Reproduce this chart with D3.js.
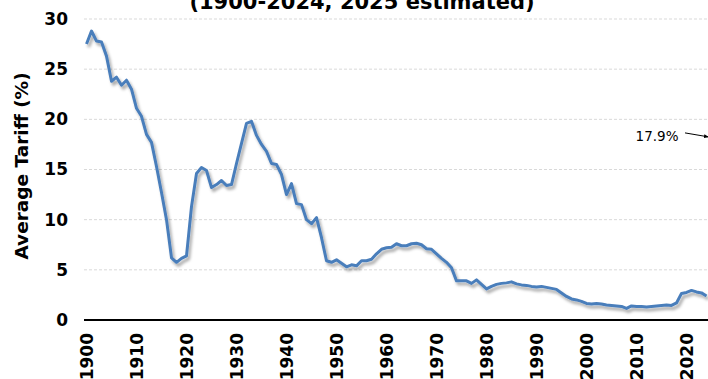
<!DOCTYPE html>
<html>
<head>
<meta charset="utf-8">
<script src="https://cdn.jsdelivr.net/npm/d3@7"></script>
<style>
  html, body { margin: 0; padding: 0; background: #fff; }
  svg { display: block; font-family: "DejaVu Sans", Verdana, sans-serif; }
</style>
</head>
<body>
<svg id="chart" width="708" height="379"></svg>
<script>
// ---- data ----
const titleLine = "(1900-2024, 2025 estimated)";
const yAxisTitle = "Average Tariff (%)";
const years = d3.range(1900, 2026);
const tariff = [
  27.5, 28.8, 27.8, 27.7, 26.3, 23.8, 24.2, 23.4, 23.9, 23.0,   // 1900-1909
  21.1, 20.3, 18.5, 17.7, 15.3, 12.7, 10.0, 6.2, 5.75, 6.15,    // 1910-1919
  6.4, 11.3, 14.6, 15.2, 14.9, 13.2, 13.5, 13.9, 13.4, 13.5,    // 1920-1929
  15.6, 17.6, 19.6, 19.8, 18.4, 17.5, 16.8, 15.6, 15.5, 14.5,   // 1930-1939
  12.5, 13.6, 11.6, 11.5, 10.0, 9.6, 10.2, 8.2, 5.9, 5.75,      // 1940-1949
  6.0, 5.65, 5.3, 5.5, 5.4, 5.9, 5.9, 6.05, 6.6, 7.05,          // 1950-1959
  7.2, 7.25, 7.6, 7.4, 7.4, 7.6, 7.65, 7.5, 7.1, 7.05,          // 1960-1969
  6.6, 6.15, 5.75, 5.2, 3.9, 3.9, 3.9, 3.65, 4.0, 3.55,         // 1970-1979
  3.1, 3.35, 3.55, 3.65, 3.7, 3.8, 3.6, 3.5, 3.45, 3.35,        // 1980-1989
  3.3, 3.35, 3.25, 3.15, 3.05, 2.7, 2.35, 2.1, 2.0, 1.85,       // 1990-1999
  1.65, 1.6, 1.65, 1.6, 1.5, 1.45, 1.4, 1.35, 1.15, 1.4,        // 2000-2009
  1.35, 1.35, 1.3, 1.35, 1.4, 1.45, 1.5, 1.45, 1.7, 2.65,       // 2010-2019
  2.75, 2.95, 2.8, 2.7, 2.4                                      // 2020-2024
];
const estimateYear = 2025;
const estimateValue = 17.9;
const estimateLabel = "17.9%";
const yTicks = [0, 5, 10, 15, 20, 25, 30];
const xTickYears = d3.range(1900, 2030, 10);

// ---- chart ----
const svg = d3.select("#chart");
const plotLeft = 84, plotRight = 714, plotTop = 19, plotBottom = 320;

const x = d3.scaleBand().domain(years).range([plotLeft, plotRight]);
const xc = yr => x(yr) + x.bandwidth() / 2;
const y = d3.scaleLinear().domain([0, 30]).range([plotBottom, plotTop]);

const defs = svg.append("defs");
const f = defs.append("filter").attr("id", "shadow")
  .attr("x", "-10%").attr("y", "-10%").attr("width", "120%").attr("height", "130%");
f.append("feDropShadow").attr("dx", 2).attr("dy", 3).attr("stdDeviation", 1.6)
  .attr("flood-color", "#000").attr("flood-opacity", 0.35);
defs.append("marker").attr("id", "arrow")
  .attr("viewBox", "0 0 10 10").attr("refX", 9).attr("refY", 5)
  .attr("markerWidth", 5).attr("markerHeight", 5).attr("orient", "auto")
  .append("path").attr("d", "M0,1 L10,5 L0,9 Z").attr("fill", "#000");

// gridlines
svg.append("g").selectAll("line").data(yTicks.filter(t => t > 0)).join("line")
  .attr("x1", plotLeft).attr("x2", plotRight)
  .attr("y1", d => y(d)).attr("y2", d => y(d))
  .attr("stroke", "#d9d9d9").attr("stroke-width", 1).attr("stroke-dasharray", "3,2");

// y axis labels
const yAxis = d3.axisLeft(y).tickValues(yTicks).tickSize(0).tickPadding(16);
const gy = svg.append("g").attr("transform", `translate(${plotLeft},0)`).call(yAxis);
gy.select(".domain").remove();
gy.selectAll("text").attr("font-size", 17).attr("font-weight", "bold")
  .attr("fill", "#000").attr("font-family", "DejaVu Sans, Verdana, sans-serif");

// x axis line
const xAxis = d3.axisBottom(x).tickValues([]).tickSize(0);
const gx = svg.append("g").attr("transform", `translate(0,${plotBottom})`).call(xAxis);
gx.select(".domain").attr("stroke", "#000").attr("stroke-width", 1.8)
  .attr("d", `M${plotLeft},0H${plotRight}`);

// x tick labels (rotated, reading bottom-to-top)
svg.append("g").attr("class", "xlabels").selectAll("text").data(xTickYears).join("text")
  .attr("x", -(plotBottom + 13))
  .attr("y", d => xc(d))
  .attr("dy", "0.36em")
  .attr("transform", "rotate(-90)")
  .attr("text-anchor", "end")
  .style("font-size", "17px").style("font-weight", "bold").style("fill", "#000")
  .text(d => String(d));

// y axis title
svg.append("text")
  .attr("transform", `translate(28,166) rotate(-90)`)
  .attr("text-anchor", "middle")
  .attr("font-size", 18.5).attr("font-weight", "bold").attr("fill", "#000")
  .text(yAxisTitle);

// title (second line visible at top)
svg.append("text")
  .attr("x", 362).attr("y", 9)
  .attr("text-anchor", "middle")
  .attr("font-size", 21).attr("font-weight", "bold").attr("fill", "#000")
  .text(titleLine);

// line
const series = years.filter(yr => yr < estimateYear).map((yr, i) => ({ yr, v: tariff[i] }));
const line = d3.line().x(d => xc(d.yr)).y(d => y(d.v));
svg.append("path").datum(series)
  .attr("d", line)
  .attr("fill", "none")
  .attr("stroke", "#4a7ebb")
  .attr("stroke-width", 3)
  .attr("stroke-linejoin", "round")
  .attr("filter", "url(#shadow)");

// annotation for estimate
const ex = xc(estimateYear), ey = y(estimateValue);
svg.append("text")
  .attr("x", ex - 33).attr("y", ey + 0.5)
  .attr("text-anchor", "end")
  .attr("font-size", 13.5).attr("fill", "#000")
  .text(estimateLabel);
svg.append("line")
  .attr("x1", ex - 26.5).attr("y1", ey - 7.5)
  .attr("x2", ex - 3).attr("y2", ey - 3.5)
  .attr("stroke", "#000").attr("stroke-width", 1)
  .attr("marker-end", "url(#arrow)");
</script>
</body>
</html>
